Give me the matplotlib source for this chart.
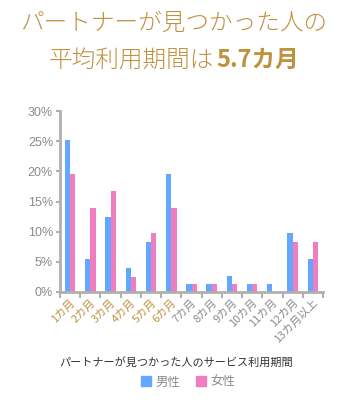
import numpy as np
import matplotlib.pyplot as plt
from matplotlib.patches import Patch

plt.rcParams['font.family'] = ['Noto Sans CJK JP', 'DejaVu Sans']

months = ["1カ月", "2カ月", "3カ月", "4カ月", "5カ月", "6カ月", "7カ月",
          "8カ月", "9カ月", "10カ月", "11カ月", "12カ月", "13カ月以上"]
male = [25.2, 5.5, 12.5, 4.0, 8.3, 19.5, 1.4, 1.4, 2.7, 1.4, 1.4, 9.7, 5.5]
female = [19.5, 14.0, 16.7, 2.5, 9.7, 14.0, 1.4, 1.4, 1.4, 1.4, 0.0, 8.3, 8.3]
yticks = [0, 5, 10, 15, 20, 25, 30]

gold = "#c0913f"
grey = "#8a8a8a"
blue = "#63a7ff"
pink = "#f07dbf"

W, H = 354, 403
fig = plt.figure(figsize=(W / 100, H / 100), dpi=100)
ax = fig.add_axes([60 / W, 1 - 292 / H, 263 / W, 181 / H])

x = np.arange(len(months))
bw = 0.26
ax.bar(x - bw / 2, male, bw, color=blue, label="男性")
ax.bar(x + bw / 2, female, bw, color=pink, label="女性")

ax.set_xlim(-0.5, len(months) - 0.5)
ax.set_ylim(0, 30)
ax.set_yticks(yticks)
ax.set_yticklabels([f"{v}%" for v in yticks], fontsize=9, color=grey,
                   family=['Liberation Sans'])
ax.set_xticks(x)
ax.set_xticklabels(months, rotation=45, ha='right', va='top',
                   rotation_mode='anchor', fontsize=8)
for i, lbl in enumerate(ax.get_xticklabels()):
    lbl.set_color(gold if i < 6 else grey)
ax.set_xticks(np.arange(len(months) + 1) - 0.5, minor=True)
ax.tick_params(axis='x', which='major', length=0, pad=4)
ax.tick_params(axis='x', which='minor', length=4, width=1.5, color="#b0b0b0")
ax.tick_params(axis='y', length=3, width=1.5, color="#b0b0b0", pad=2)

for s in ["top", "right"]:
    ax.spines[s].set_visible(False)
for s in ["left", "bottom"]:
    ax.spines[s].set_color("#b0b0b0")
    ax.spines[s].set_linewidth(2)

fig.text(174 / W, 1 - 23 / H, "パートナーが見つかった人の", ha='center', va='center',
         fontsize=17, color=gold, fontweight='light')
fig.text(214 / W, 1 - 60 / H, "平均利用期間は", ha='right', va='center',
         fontsize=17, color=gold, fontweight='light')
fig.text(216 / W, 1 - 60 / H, "5.7カ月", ha='left', va='center',
         fontsize=17, color=gold, fontweight='bold')

fig.text(176 / W, 1 - 362 / H, "パートナーが見つかった人のサービス利用期間",
         ha='center', va='center', fontsize=8, color="#333333")

handles = [Patch(color=blue), Patch(color=pink)]
fig.legend(handles, ["男性", "女性"], loc='center', bbox_to_anchor=(188 / W, 1 - 382 / H),
           ncol=2, frameon=False, fontsize=9, handlelength=0.8, handleheight=0.8,
           handletextpad=0.4, columnspacing=1.2, labelcolor=grey)

fig.savefig("out.png", dpi=100)
